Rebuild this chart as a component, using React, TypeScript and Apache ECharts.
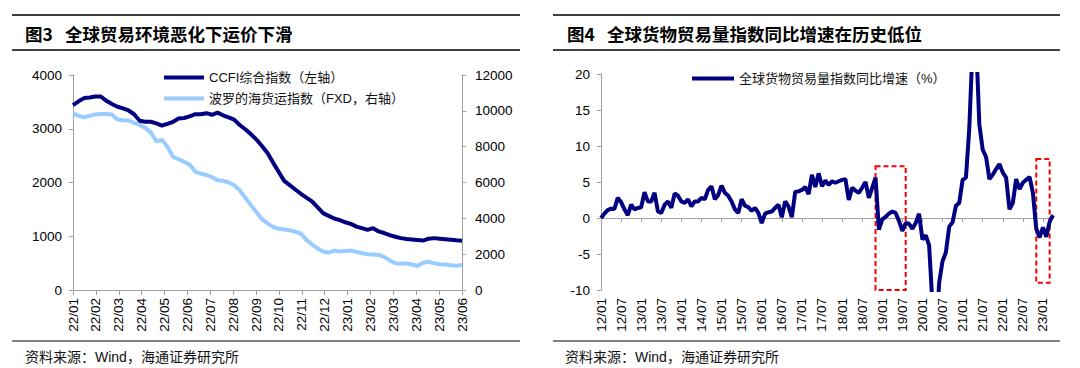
import React, { useEffect, useRef } from 'react';
import * as echarts from 'echarts';

const FONT = "'Liberation Sans', 'Noto Sans CJK SC', sans-serif";
const CJK_BOLD = "'Noto Sans CJK SC', 'Liberation Sans', sans-serif";

// ---- Figure 3: freight indices (weekly points, Jan 2022 – Jun 2023) ----
const freightMonths = [
  '22/01', '22/02', '22/03', '22/04', '22/05', '22/06', '22/07', '22/08', '22/09',
  '22/10', '22/11', '22/12', '23/01', '23/02', '23/03', '23/04', '23/05', '23/06',
];

const ccfiWeekly = [
  3440, 3510, 3570, 3580, 3600, 3600, 3520, 3460, 3410, 3380,
  3340, 3270, 3150, 3130, 3130, 3100, 3060, 3090, 3130, 3190,
  3200, 3230, 3270, 3270, 3290, 3260, 3300, 3250, 3210, 3170,
  3070, 2990, 2900, 2800, 2680, 2550, 2370, 2200, 2030, 1950,
  1870, 1790, 1720, 1650, 1540, 1430, 1380, 1330, 1300, 1260,
  1230, 1180, 1150, 1120, 1150, 1090, 1060, 1020, 990, 965,
  950, 940, 930, 920, 955, 965, 955, 945, 935, 925,
  918,
];

const fxdWeekly = [
  9860, 9720, 9640, 9720, 9800, 9820, 9820, 9800, 9520, 9480,
  9460, 9330, 9210, 9050, 8800, 8300, 8380, 8000, 7440, 7300,
  7150, 7000, 6600, 6500, 6420, 6300, 6130, 6100, 6000, 5850,
  5560, 5150, 4750, 4350, 3950, 3720, 3520, 3420, 3380, 3330,
  3250, 3150, 2800, 2550, 2320, 2150, 2080, 2200, 2150, 2180,
  2200, 2130, 2050, 2000, 1980, 1960, 1850, 1650, 1500, 1470,
  1490, 1420, 1340, 1520, 1580, 1490, 1440, 1420, 1380, 1350,
  1390,
];

const freightWeeks = ccfiWeekly.map((_, i) => `W${i + 1}`);

// ---- Figure 4: world trade volume YoY (%), monthly Jan 2012 – Apr 2023 ----
const tradeYoY = [
  0.0, 0.6, 1.1, 1.3, 1.25, 2.8, 2.2, 1.2, 0.4, 1.85, 1.2, 1.4,
  1.5, 3.6, 2.3, 2.3, 3.5, 0.9, 0.7, 1.85, 2.3, 1.4, 3.4, 3.1,
  2.3, 2.1, 2.6, 1.6, 2.3, 2.3, 2.8, 2.6, 3.9, 4.4, 2.6, 3.2,
  4.5, 3.5, 3.1, 2.3, 1.2, 0.7, 2.6, 1.7, 1.5, 1.0, 1.4, 0.7,
  -0.7, 0.6, 0.8, 0.9, 1.4, 1.85, 0.1, 2.3, 1.6, 0.1, 3.6, 3.7,
  3.9, 4.3, 3.3, 6.0, 4.3, 6.2, 4.4, 5.2, 4.6, 5.1, 4.9, 5.1,
  5.3, 5.4, 2.5, 4.2, 3.8, 3.5, 4.2, 5.0, 2.8, 4.2, 5.6, -1.6,
  -0.2, 0.15, 0.6, 0.9, 0.7, -0.4, -1.8, -0.7, -0.8, -1.5, -0.7, 0.6,
  -3.0, -2.4, -3.8, -12, -17, -9, -6, -4.8, -1.2, -0.6, 1.7, 2.1,
  5.3, 5.6, 12.5, 24, 25, 13, 9.5, 8.5, 5.4, 6.0, 6.8, 7.5,
  6.3, 5.6, 1.2, 2.1, 5.4, 4.0, 4.9, 5.3, 5.7, 3.5, -1.5, -2.7,
  -1.3, -2.6, -0.5, 0.4,
];

const tradeMonths: string[] = [];
for (let y = 12; y <= 23; y++) {
  for (let m = 1; m <= 12; m++) {
    if (tradeMonths.length < tradeYoY.length) {
      tradeMonths.push(`${y}/${String(m).padStart(2, '0')}`);
    }
  }
}

const highlightBoxes = [
  { from: '18/11', to: '19/08', top: 7.2, bottom: -10 },
  { from: '22/11', to: '23/03', top: 8.2, bottom: -9 },
];

const NAVY = '#000080';
const LIGHT = '#99CCFF';
const AXIS = '#a0a0a0';

function axisLabel(extra: any = {}) {
  return { fontSize: 13.5, color: '#000', fontFamily: FONT, ...extra };
}

const plain = (v: number) => String(v);

export default function App() {
  const ref = useRef<HTMLDivElement>(null);

  useEffect(() => {
    if (!ref.current) return;
    const chart = echarts.init(ref.current, undefined, { renderer: 'svg' });

    const legendText = { fontSize: 13, color: '#111', fontFamily: FONT };

    const option: any = {
      animation: false,
      backgroundColor: '#fff',
      textStyle: { fontFamily: FONT },
      grid: [
        { left: 73, top: 75, width: 389, height: 215 },
        { left: 601, top: 74, width: 452, height: 216 },
      ],
      xAxis: [
        {
          gridIndex: 0,
          type: 'category',
          data: freightMonths,
          boundaryGap: false,
          axisLine: { lineStyle: { color: AXIS } },
          axisTick: { show: true, interval: 0, length: 5, lineStyle: { color: AXIS } },
          axisLabel: axisLabel({ rotate: 90, interval: 0, margin: 8 }),
          splitLine: { show: false },
        },
        {
          gridIndex: 0,
          type: 'category',
          data: freightWeeks,
          boundaryGap: false,
          show: false,
        },
        {
          gridIndex: 1,
          type: 'category',
          data: tradeMonths,
          boundaryGap: false,
          position: 'bottom',
          axisLine: { show: false, onZero: false },
          axisTick: { show: false },
          axisLabel: axisLabel({ rotate: 90, interval: 5, margin: 8 }),
          splitLine: { show: false },
        },
        {
          gridIndex: 1,
          type: 'category',
          data: tradeMonths,
          boundaryGap: false,
          position: 'bottom',
          axisLine: { show: true, onZero: true, lineStyle: { color: AXIS } },
          axisTick: { show: true, interval: 5, length: 4, lineStyle: { color: AXIS } },
          axisLabel: { show: false },
          splitLine: { show: false },
        },
      ],
      yAxis: [
        {
          gridIndex: 0,
          type: 'value',
          position: 'left',
          min: 0,
          max: 4000,
          interval: 1000,
          axisLine: { show: true, lineStyle: { color: AXIS } },
          axisTick: { show: true, length: 4, lineStyle: { color: AXIS } },
          axisLabel: axisLabel({ margin: 11, formatter: plain }),
          splitLine: { show: false },
        },
        {
          gridIndex: 0,
          type: 'value',
          position: 'right',
          min: 0,
          max: 12000,
          interval: 2000,
          axisLine: { show: true, lineStyle: { color: AXIS } },
          axisTick: { show: true, length: 4, lineStyle: { color: AXIS } },
          axisLabel: axisLabel({ margin: 13, formatter: plain }),
          splitLine: { show: false },
        },
        {
          gridIndex: 1,
          type: 'value',
          position: 'left',
          min: -10,
          max: 20,
          interval: 5,
          axisLine: { show: true, onZero: false, lineStyle: { color: AXIS } },
          axisTick: { show: true, length: 4, lineStyle: { color: AXIS } },
          axisLabel: axisLabel({ margin: 11, formatter: plain }),
          splitLine: { show: false },
        },
      ],
      legend: [
        {
          orient: 'vertical',
          left: 159,
          top: 66,
          icon: 'rect',
          itemWidth: 40,
          itemHeight: 4,
          itemGap: 8,
          data: ['CCFI综合指数（左轴）', '波罗的海货运指数（FXD，右轴）'],
          textStyle: legendText,
        },
        {
          left: 687,
          top: 67,
          icon: 'rect',
          itemWidth: 42,
          itemHeight: 4,
          data: ['全球货物贸易量指数同比增速（%）'],
          textStyle: legendText,
        },
      ],
      series: [
        {
          name: 'CCFI综合指数（左轴）',
          type: 'line',
          xAxisIndex: 1,
          yAxisIndex: 0,
          data: ccfiWeekly,
          symbol: 'none',
          lineStyle: { color: NAVY, width: 4 },
          itemStyle: { color: NAVY },
          z: 3,
        },
        {
          name: '波罗的海货运指数（FXD，右轴）',
          type: 'line',
          xAxisIndex: 1,
          yAxisIndex: 1,
          data: fxdWeekly,
          symbol: 'none',
          lineStyle: { color: LIGHT, width: 4 },
          itemStyle: { color: LIGHT },
          z: 2,
        },
        {
          name: '全球货物贸易量指数同比增速（%）',
          type: 'line',
          xAxisIndex: 2,
          yAxisIndex: 2,
          data: tradeYoY,
          symbol: 'none',
          clip: true,
          lineStyle: { color: NAVY, width: 4 },
          itemStyle: { color: NAVY },
          markArea: {
            silent: true,
            itemStyle: {
              color: 'rgba(0,0,0,0)',
              borderColor: '#ff0000',
              borderWidth: 2,
              borderType: [5, 3],
            },
            data: highlightBoxes.map((b) => [
              { xAxis: b.from, yAxis: b.top },
              { xAxis: b.to, yAxis: b.bottom },
            ]),
          },
        },
      ],
      graphic: [
        // Figure 3 frame
        { type: 'line', shape: { x1: 12, y1: 15, x2: 520, y2: 15 }, style: { stroke: '#000', lineWidth: 1.5 } },
        { type: 'line', shape: { x1: 12, y1: 50, x2: 520, y2: 50 }, style: { stroke: '#000', lineWidth: 1.5 } },
        { type: 'line', shape: { x1: 12, y1: 341, x2: 520, y2: 341 }, style: { stroke: '#000', lineWidth: 1.2 } },
        {
          type: 'text', x: 25, y: 33,
          style: { text: '图3', fontSize: 17.5, fontWeight: 'bold', fontFamily: CJK_BOLD, fill: '#000', verticalAlign: 'middle' },
        },
        {
          type: 'text', x: 65, y: 33,
          style: { text: '全球贸易环境恶化下运价下滑', fontSize: 17.5, fontWeight: 'bold', fontFamily: CJK_BOLD, fill: '#000', verticalAlign: 'middle' },
        },
        {
          type: 'text', x: 25, y: 357,
          style: { text: '资料来源：Wind，海通证券研究所', fontSize: 14, fontFamily: FONT, fill: '#111', verticalAlign: 'middle' },
        },
        // Figure 4 frame
        { type: 'line', shape: { x1: 553, y1: 15, x2: 1060, y2: 15 }, style: { stroke: '#000', lineWidth: 1.5 } },
        { type: 'line', shape: { x1: 553, y1: 50, x2: 1060, y2: 50 }, style: { stroke: '#000', lineWidth: 1.5 } },
        { type: 'line', shape: { x1: 553, y1: 341, x2: 1060, y2: 341 }, style: { stroke: '#000', lineWidth: 1.2 } },
        {
          type: 'text', x: 567, y: 33,
          style: { text: '图4', fontSize: 17.5, fontWeight: 'bold', fontFamily: CJK_BOLD, fill: '#000', verticalAlign: 'middle' },
        },
        {
          type: 'text', x: 607, y: 33,
          style: { text: '全球货物贸易量指数同比增速在历史低位', fontSize: 17.5, fontWeight: 'bold', fontFamily: CJK_BOLD, fill: '#000', verticalAlign: 'middle' },
        },
        {
          type: 'text', x: 565, y: 357,
          style: { text: '资料来源：Wind，海通证券研究所', fontSize: 14, fontFamily: FONT, fill: '#111', verticalAlign: 'middle' },
        },
      ],
    };

    chart.setOption(option);
    return () => chart.dispose();
  }, []);

  return (
    <div
      ref={ref}
      style={{ position: 'absolute', left: 0, top: 0, width: 1080, height: 368, background: '#fff' }}
    />
  );
}
